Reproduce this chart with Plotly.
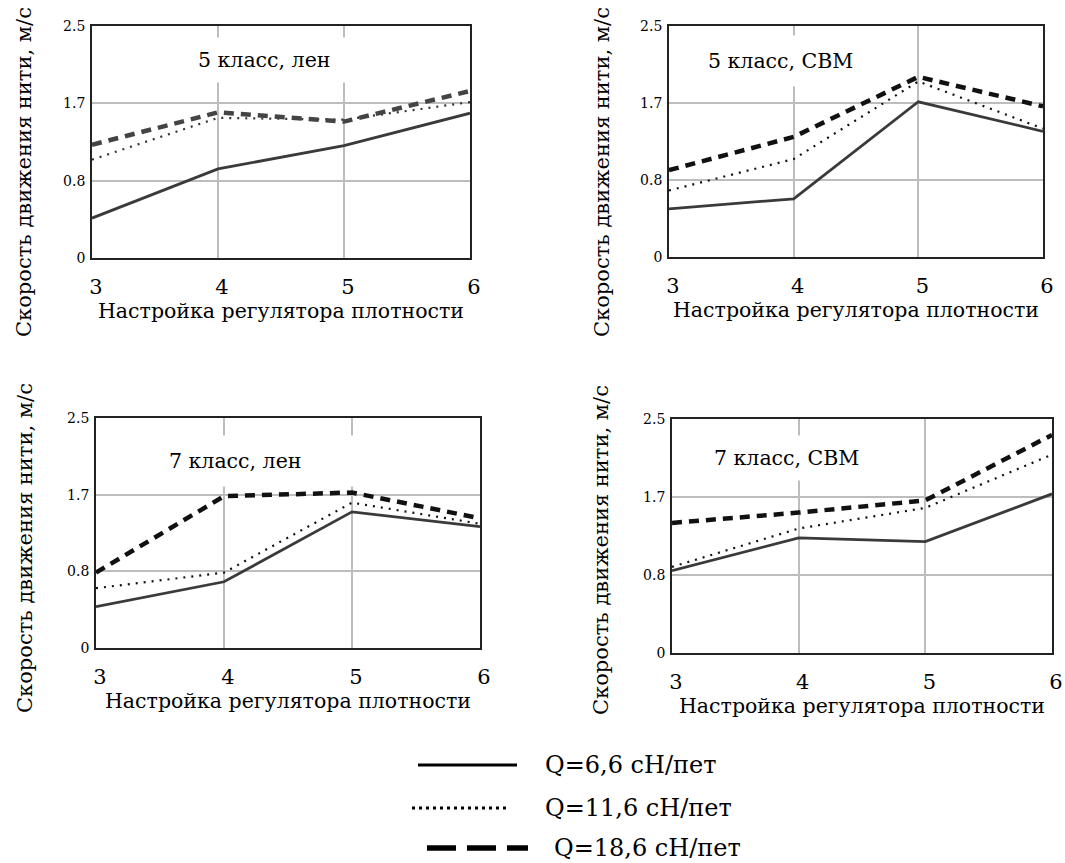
import plotly.graph_objects as go

W, H = 1065, 863

# ---------------- data ----------------
x_settings = [3, 4, 5, 6]
panel_titles = ["5 класс, лен", "5 класс, СВМ", "7 класс, лен", "7 класс, СВМ"]
series_names = ["Q=6,6 сН/пет", "Q=11,6 сН/пет", "Q=18,6 сН/пет"]

len5_q66 = [0.43, 0.96, 1.21, 1.56]
len5_q116 = [1.06, 1.51, 1.49, 1.68]
len5_q186 = [1.22, 1.57, 1.47, 1.80]

svm5_q66 = [0.52, 0.63, 1.68, 1.36]
svm5_q116 = [0.72, 1.06, 1.90, 1.39]
svm5_q186 = [0.94, 1.30, 1.95, 1.63]

len7_q66 = [0.45, 0.72, 1.48, 1.32]
len7_q116 = [0.65, 0.82, 1.58, 1.35]
len7_q186 = [0.82, 1.65, 1.69, 1.41]

svm7_q66 = [0.88, 1.23, 1.19, 1.70]
svm7_q116 = [0.92, 1.33, 1.55, 2.12]
svm7_q186 = [1.39, 1.50, 1.63, 2.33]

y_tick_vals = [0, 2.5 / 3, 5 / 3, 2.5]
y_tick_text = ["0", "0.8", "1.7", "2.5"]
x_title = "Настройка регулятора плотности"
y_title = "Скорость движения нити, м/с"

panels = [
    [len5_q66, len5_q116, len5_q186],
    [svm5_q66, svm5_q116, svm5_q186],
    [len7_q66, len7_q116, len7_q186],
    [svm7_q66, svm7_q116, svm7_q186],
]

# ---------------- layout helpers (pixel -> paper) ----------------
def px(x):
    return x / W


def py(y):
    return 1 - y / H


FONT = "DejaVu Serif"

boxes = [
    (92, 470, 26, 258),
    (669, 1043, 26, 257),
    (96, 480, 418, 648),
    (672, 1052, 419, 653),
]

styles = [
    dict(color="#3a3a3a", width=2.8, dash="solid"),
    dict(color="#111111", width=2.2, dash="2px,6px"),
    dict(color="#111111", width=4.5, dash="10px,7px"),
]
panel1_colors = ["#3a3a3a", "#333333", "#444444"]

fig = go.Figure()

for i, series in enumerate(panels):
    ax = "" if i == 0 else str(i + 1)
    for j, vals in enumerate(series):
        st = dict(styles[j])
        if i == 0:
            st["color"] = panel1_colors[j]
        fig.add_trace(
            go.Scatter(
                x=x_settings,
                y=vals,
                mode="lines",
                line=st,
                name=series_names[j],
                showlegend=False,
                xaxis="x" + ax,
                yaxis="y" + ax,
            )
        )

layout = dict(
    template="none",
    width=W,
    height=H,
    autosize=False,
    margin=dict(l=0, r=0, t=0, b=0, pad=0),
    paper_bgcolor="white",
    plot_bgcolor="white",
    font=dict(family=FONT, color="black"),
    showlegend=False,
)

annotations = []
shapes = []

title_boxes = [
    (197, 360, 60, 44),
    (707, 870, 61, 50),
    (168, 362, 461, 50),
    (713, 880, 458, 44),
]
ytitle_pos = [(24, 172), (602, 172), (25, 548), (601, 550)]

for i, (l, r, t, b) in enumerate(boxes):
    ax = "" if i == 0 else str(i + 1)
    layout["xaxis" + ax] = dict(
        domain=[px(l), px(r)],
        range=[3, 6],
        anchor="y" + ax,
        automargin=False,
        tickvals=x_settings,
        ticktext=[str(v) for v in x_settings],
        showgrid=True,
        gridcolor="#bdbdbd",
        gridwidth=1.5,
        zeroline=False,
        showline=True,
        linecolor="#222222",
        linewidth=1.8,
        mirror=True,
        ticks="",
        ticklabelstandoff=9,
        ticklabelshift=4,
        tickfont=dict(family=FONT, size=21, color="black"),
        title=dict(text=x_title, font=dict(family=FONT, size=20.5, color="black"), standoff=4),
        fixedrange=True,
    )
    layout["yaxis" + ax] = dict(
        domain=[py(b), py(t)],
        range=[0, 2.5],
        anchor="x" + ax,
        automargin=False,
        tickvals=y_tick_vals,
        ticktext=y_tick_text,
        showgrid=True,
        gridcolor="#bdbdbd",
        gridwidth=1.5,
        zeroline=False,
        showline=True,
        linecolor="#222222",
        linewidth=1.8,
        mirror=True,
        ticks="",
        ticklabelstandoff=2,
        tickfont=dict(family=FONT, size=14, color="black"),
        fixedrange=True,
    )

    tl, br, cy, hh = title_boxes[i]
    annotations.append(
        dict(
            text=panel_titles[i],
            xref="paper", yref="paper",
            x=px(tl), y=py(cy),
            xanchor="left", yanchor="middle",
            width=br - tl, height=hh,
            align="left", valign="middle",
            bgcolor="white", borderpad=0,
            showarrow=False,
            font=dict(family=FONT, size=20.5, color="black"),
        )
    )
    yx, yy = ytitle_pos[i]
    annotations.append(
        dict(
            text=y_title,
            xref="paper", yref="paper",
            x=px(yx), y=py(yy),
            xanchor="center", yanchor="middle",
            textangle=-90,
            showarrow=False,
            font=dict(family=FONT, size=21, color="black"),
        )
    )

legend_rows = [
    (418, 517, 765, 543, 3, "solid"),
    (412, 508, 808, 543, 3, "3px,4px"),
    (427, 528, 848, 552, 5.5, "29px,11px"),
]
for k, (x0, x1, yv, tx, lw, dsh) in enumerate(legend_rows):
    shapes.append(
        dict(
            type="line", xref="paper", yref="paper",
            x0=px(x0), x1=px(x1), y0=py(yv), y1=py(yv),
            line=dict(color="black", width=lw, dash=dsh),
        )
    )
    annotations.append(
        dict(
            text=series_names[k],
            xref="paper", yref="paper",
            x=px(tx), y=py(yv),
            xanchor="left", yanchor="middle",
            showarrow=False,
            font=dict(family=FONT, size=24, color="black"),
        )
    )

layout["annotations"] = annotations
layout["shapes"] = shapes
fig.update_layout(**layout)

fig.write_html(
    "out.html",
    config={"displayModeBar": False},
    post_script="document.body.style.margin='0';document.body.style.overflow='hidden';",
)
